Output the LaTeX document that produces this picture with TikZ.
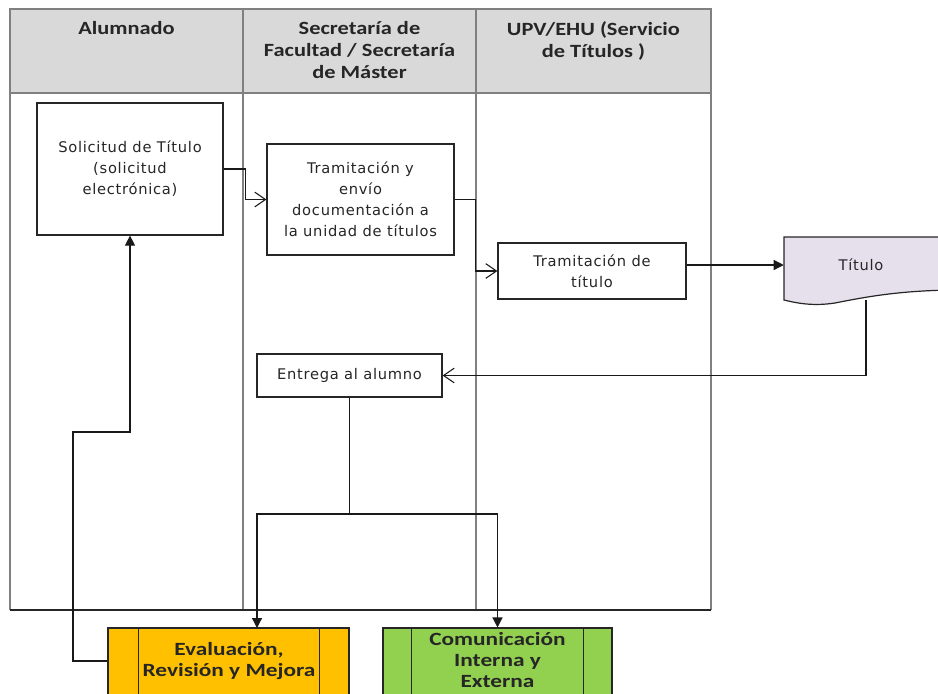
\documentclass[tikz,border=0pt]{standalone}
\usepackage{fontspec}
\setmainfont{DejaVu Sans}
\newfontfamily\hdrfont{Carlito}[FakeStretch=1.2]
\newfontfamily\boxfont{DejaVu Sans}[LetterSpace=5]
\newfontfamily\procfont{Carlito}[FakeStretch=1.25]
\usetikzlibrary{arrows.meta,calc}
\definecolor{hdrgray}{HTML}{D9D9D9}
\definecolor{lanegray}{HTML}{808080}
\definecolor{titfill}{HTML}{E5E0EC}
\definecolor{evalorange}{HTML}{FFC000}
\definecolor{comgreen}{HTML}{92D050}
\definecolor{boxline}{HTML}{262626}
\begin{document}
\begin{tikzpicture}[x=0.75pt,y=-0.75pt,
  lane/.style={draw=lanegray, line width=1.1pt},
  bottomline/.style={draw=black!85, line width=1pt},
  hdr/.style={font=\hdrfont\bfseries\fontsize{14}{16.5}\selectfont, align=center, inner sep=0pt, text=black!85},
  proc/.style={draw=boxline, line width=0.9pt, fill=white, font=\boxfont\fontsize{11}{15.75}\selectfont, align=center, inner sep=0pt, text=black!85},
  pproc/.style={draw=boxline, line width=0.8pt, inner sep=0pt},
  pptext/.style={font=\procfont\bfseries\fontsize{14}{15.75}\selectfont, align=center, inner sep=0pt, text=black!85},
  conn/.style={draw=black!90, line width=0.9pt},
  openarr/.style={conn, -{Straight Barb[length=8pt,width=11pt,line width=0.8pt]}},
  fillarr/.style={conn, -{Triangle[length=7.5pt,width=7.5pt]}}
]
\useasboundingbox (0,0) rectangle (938,693);
% swimlanes
\fill[hdrgray] (10,9) rectangle (711,93);
\draw[lane] (10,610) -- (10,9) -- (711,9) -- (711,610);
\draw[lane] (10,93) -- (711,93);
\draw[lane] (243,9) -- (243,610);
\draw[lane] (476,9) -- (476,610);
\draw[bottomline] (10,610) -- (711,610);
% headers
\node[hdr, anchor=north] (h1) at (126.5,21) {Alumnado};
\node[hdr, anchor=north] (h2) at (359.5,21) {Secretaría de\\Facultad / Secretaría\\de Máster};
\node[hdr, anchor=north] (h3) at (593.5,21) {UPV/EHU (Servicio\\de Títulos )};
% process boxes
\node[proc, minimum width=139.5pt, minimum height=99pt] (sol) at (130,169) {Solicitud de Título\\(solicitud\\electrónica)};
\node[proc, minimum width=140.25pt, minimum height=83.25pt] (tram) at (360.5,199.5) {Tramitación y\\envío\\documentación a\\la unidad de títulos};
\node[proc, minimum width=141pt, minimum height=42pt] (tt) at (592,271) {Tramitación de\\título};
\node[proc, minimum width=138.75pt, minimum height=32.25pt] (ent) at (349.5,375.5) {Entrega al alumno};
% document shape
\draw[boxline, line width=0.9pt, fill=titfill] (784,237) -- (950,237) -- (950,290)
  .. controls (900,291) and (870,296) .. (835,303)
  .. controls (815,306) and (800,304) .. (784,300) -- cycle;
\node[font=\boxfont\fontsize{11}{15.75}\selectfont, inner sep=0pt, minimum width=115.5pt, minimum height=42pt, text=black!85] (tit) at (861,265) {Título};
\coordinate (tb) at (866,300);
% predefined processes
\node[pproc, fill=evalorange, minimum width=180.75pt, minimum height=54pt] (eval) at (228.5,664) {};
\draw[pproc] ([xshift=23.25pt]eval.north west) -- ([xshift=23.25pt]eval.south west);
\draw[pproc] ([xshift=-22.5pt]eval.north east) -- ([xshift=-22.5pt]eval.south east);
\node[pptext] (evaltxt) at (229,661) {Evaluación,\\Revisión y Mejora};
\node[pproc, fill=comgreen, minimum width=171.75pt, minimum height=54pt] (com) at (497.5,664) {};
\draw[pproc] ([xshift=21.75pt]com.north west) -- ([xshift=21.75pt]com.south west);
\draw[pproc] ([xshift=-21.75pt]com.north east) -- ([xshift=-21.75pt]com.south east);
\node[pptext] (comtxt) at (497.5,660) {Comunicación\\Interna y\\Externa};
% connectors
\draw[openarr] (sol.east) -- ++(22,0) |- (tram.west);
\draw[openarr] (tram.east) -- ++(21,0) |- (tt.west);
\draw[fillarr] (tt.east |- tit.west) -- (tit.west);
\draw[openarr] (tb) |- (ent.east);
\coordinate (split) at (349.5,514);
\coordinate (evin) at (257,628);
\draw[conn] (ent.south) -- (split);
\draw[fillarr] (split) -| (evin);
\draw[fillarr] (split) -| (com.north);
\coordinate (fb) at (73,432);
\draw[fillarr] (evaltxt -| eval.west) -| (fb) -| (sol.south);
\end{tikzpicture}
\end{document}
